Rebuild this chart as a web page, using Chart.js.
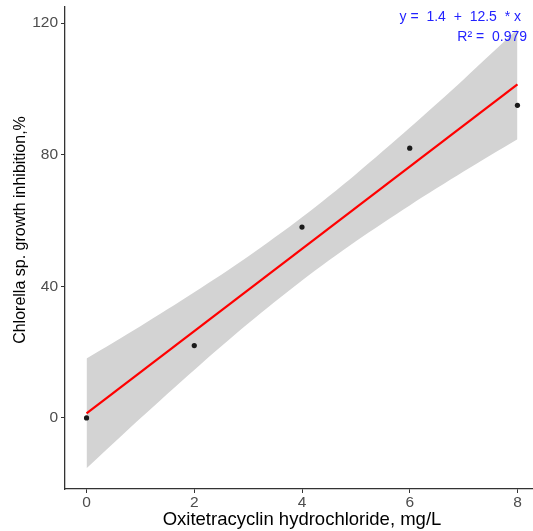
<!DOCTYPE html>
<html>
<head>
<meta charset="utf-8">
<script src="https://cdn.jsdelivr.net/npm/chart.js@4.4.1/dist/chart.umd.min.js"></script>
<style>
html,body{margin:0;padding:0;background:#fff;overflow:hidden;}
#wrap{width:545px;height:531px;position:relative;}
</style>
</head>
<body>
<div id="wrap"><canvas id="c" width="543" height="531"></canvas></div>
<script>
// Observed points
const concentration = [0, 2, 4, 6, 8];
const inhibition = [0, 22, 58, 82, 95];
// Fitted line end points (y = 1.4 + 12.5x)
const fitX = [0, 8];
const fitY = [1.4, 101.4];
// Confidence band
const bandX = [0, 1, 2, 3, 4, 5, 6, 7, 8];
const bandUpper = [18.1, 27.9, 38.2, 49.1, 61.0, 74.1, 88.2, 102.9, 118.1];
const bandLower = [-15.3, -0.1, 14.6, 28.7, 41.8, 53.7, 64.6, 74.9, 84.7];
const xTicks = [0, 2, 4, 6, 8];
const yTicks = [0, 40, 80, 120];
const eqLines = ['y =  1.4  +  12.5  * x', 'R\u00b2 =  0.979'];
const xTitle = 'Oxitetracyclin hydrochloride, mg/L';
const yTitle = 'Chlorella sp. growth inhibition,%';

const pts = (xs, ys) => xs.map((x, i) => ({x: x, y: ys[i]}));
const FONT = '"Liberation Sans", Arial, Helvetica, sans-serif';

const textPlugin = {
  id: 'texts',
  afterDraw(chart) {
    const ctx = chart.ctx;
    ctx.save();
    ctx.fillStyle = '#2222ff';
    ctx.font = '14px ' + FONT;
    ctx.textAlign = 'right';
    ctx.textBaseline = 'middle';
    ctx.fillText(eqLines[0], 521, 17);
    ctx.fillText(eqLines[1], 527, 37);
    // y axis title
    ctx.fillStyle = '#000';
    ctx.font = '16px ' + FONT;
    ctx.textAlign = 'center';
    ctx.translate(21, 230);
    ctx.rotate(-Math.PI / 2);
    ctx.fillText(yTitle, 0, 0);
    ctx.restore();
  }
};

new Chart(document.getElementById('c'), {
  type: 'scatter',
  data: {
    datasets: [
      {data: pts(bandX, bandLower), showLine: true, borderWidth: 0, pointRadius: 0, borderColor: 'rgba(0,0,0,0)', tension: 0.3, fill: false, order: 3},
      {data: pts(bandX, bandUpper), showLine: true, borderWidth: 0, pointRadius: 0, borderColor: 'rgba(0,0,0,0)', tension: 0.3, fill: '-1', backgroundColor: '#d3d3d3', order: 3},
      {data: pts(fitX, fitY), showLine: true, borderColor: '#ff0000', borderWidth: 2.2, pointRadius: 0, fill: false, order: 2},
      {data: pts(concentration, inhibition), pointRadius: 2.6, pointBackgroundColor: '#1a1a1a', pointBorderWidth: 0, backgroundColor: '#1a1a1a', order: 1}
    ]
  },
  options: {
    responsive: false,
    animation: false,
    events: [],
    layout: {padding: {top: 7, right: 0, left: 0, bottom: 0}},
    plugins: {legend: {display: false}, tooltip: {enabled: false}},
    scales: {
      x: {
        type: 'linear', min: -0.4, max: 8.4,
        afterBuildTicks(s) { s.ticks = xTicks.map(v => ({value: v})); },
        afterFit(s) { s.height = 42; s.paddingLeft = 0; s.paddingRight = 0; },
        grid: {display: true, drawOnChartArea: false, drawTicks: true, tickLength: 4, color: '#333', lineWidth: 1},
        border: {display: true, color: '#333', width: 1.3},
        ticks: {color: '#4d4d4d', font: {family: FONT, size: 15.5}, padding: 0, maxRotation: 0},
        title: {display: true, text: xTitle, color: '#000', font: {family: FONT, size: 18.5}, padding: {top: 0, bottom: 0}}
      },
      y: {
        type: 'linear', min: -21.6, max: 124.9,
        afterBuildTicks(s) { s.ticks = yTicks.map(v => ({value: v})); },
        afterFit(s) { s.width = 65; s.paddingTop = 0; s.paddingBottom = 0; },
        grid: {display: true, drawOnChartArea: false, drawTicks: true, tickLength: 4, color: '#333', lineWidth: 1},
        border: {display: true, color: '#333', width: 1.3},
        ticks: {color: '#4d4d4d', font: {family: FONT, size: 15.5}, padding: 3},
        title: {display: false}
      }
    }
  },
  plugins: [textPlugin]
});
</script>
</body>
</html>
